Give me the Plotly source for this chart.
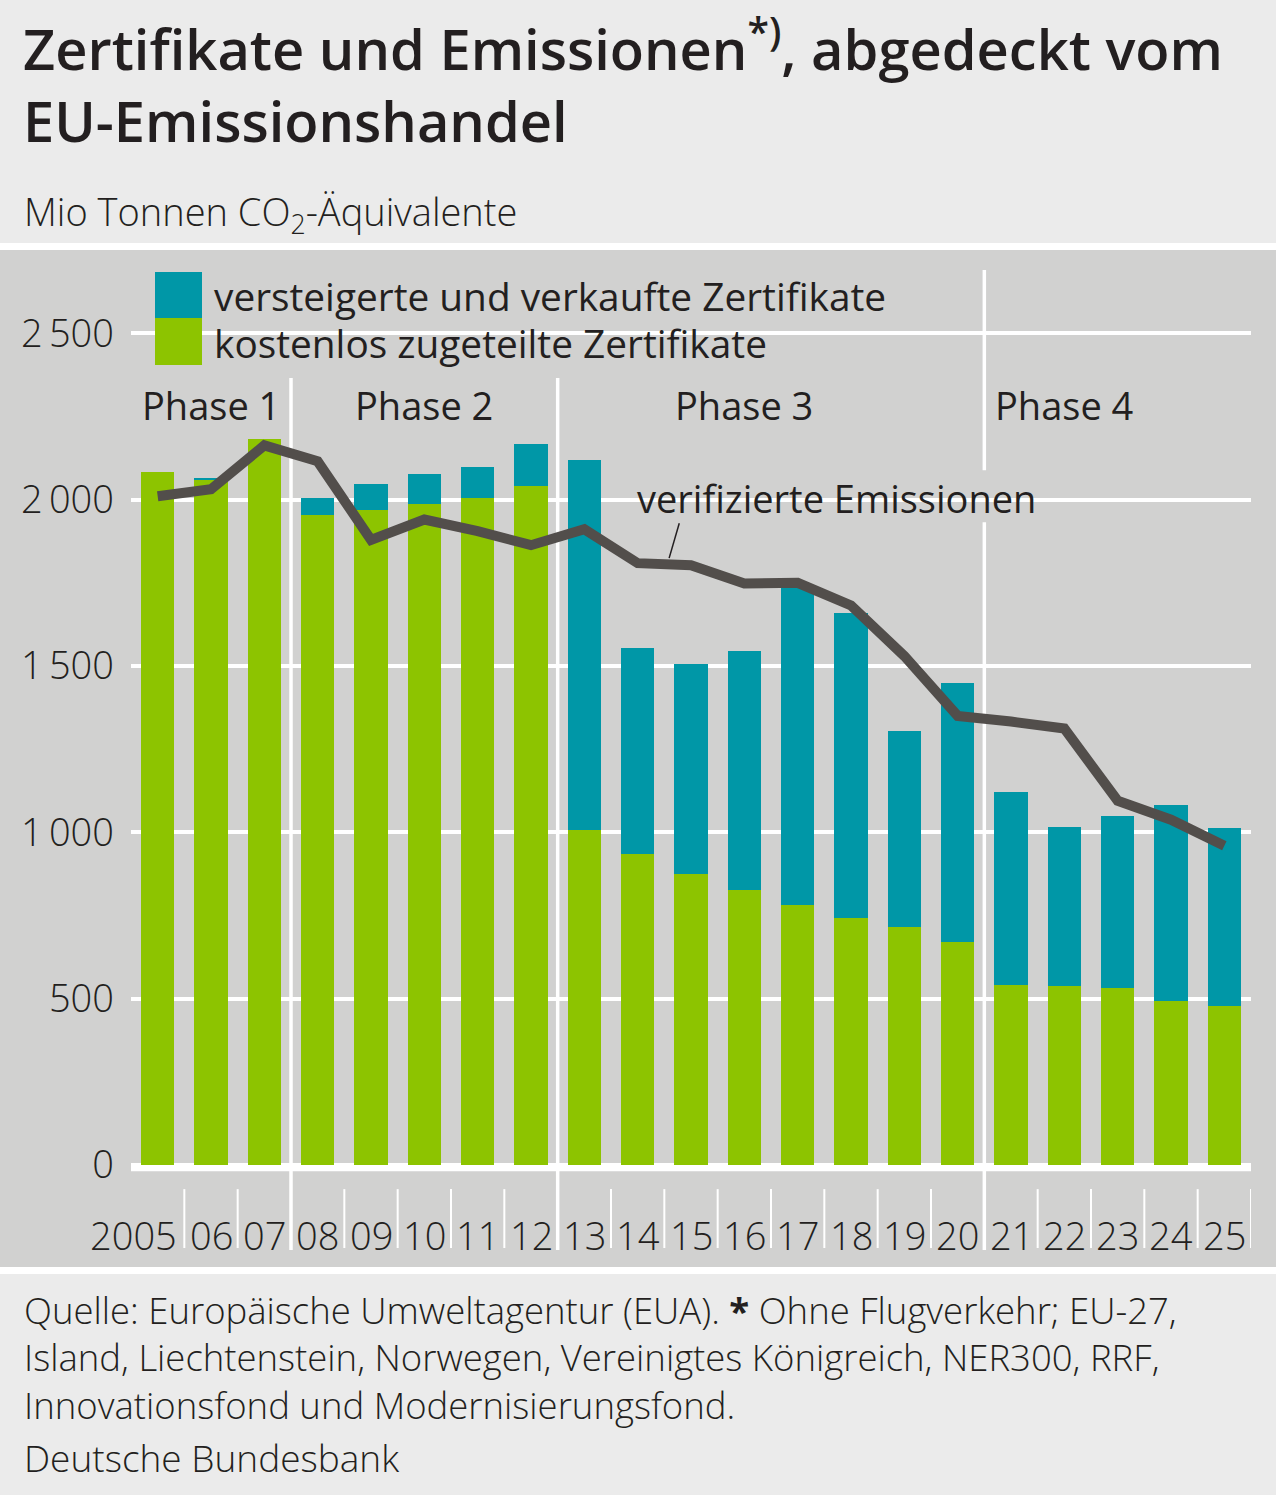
import plotly.graph_objects as go

# --- data (Mio t CO2-Äquivalente) ---
years = ['2005', '2006', '2007', '2008', '2009', '2010', '2011', '2012', '2013', '2014',
         '2015', '2016', '2017', '2018', '2019', '2020', '2021', '2022', '2023', '2024', '2025']
year_labels = ['2005', '06', '07', '08', '09', '10', '11', '12', '13', '14',
               '15', '16', '17', '18', '19', '20', '21', '22', '23', '24', '25']
free_alloc = [2082, 2058, 2181, 1953, 1968, 1986, 2004, 2040, 1008, 936,
              876, 828, 783, 744, 717, 670, 540, 537, 531, 492, 477]
auctioned = [0, 6, 0, 51, 78, 90, 93, 126, 1110, 618,
             630, 717, 953, 915, 588, 779, 582, 480, 519, 591, 537]
emissions = [2010, 2031, 2163, 2115, 1879, 1940, 1905, 1863, 1911, 1809,
             1803, 1748, 1750, 1682, 1530, 1350, 1333, 1312, 1095, 1038, 960]

y_ticks = [0, 500, 1000, 1500, 2000, 2500]
y_ticktext = ['0', '500', '1\u2009000', '1\u2009500', '2\u2009000', '2\u2009500']
phases = ['Phase 1', 'Phase 2', 'Phase 3', 'Phase 4']
phase_pos = [1, 5, 11, 17]
phase_breaks = [2.5, 7.5, 15.5]

GREEN = '#8dc400'
TEAL = '#0097a7'
LINE = '#524e4b'
BG = '#d1d1d0'
HEAD = '#ebebeb'
TXT = '#231f20'
FONT = 'Open Sans'

W, H = 1276, 1495
L, R, T, B = 131, 25, 250, 230


def px(x):
    return (x - L) / (W - L - R)


def py(y):
    return (H - B - y) / (H - T - B)


fig = go.Figure()
fig.add_trace(go.Bar(x=years, y=free_alloc, marker_color=GREEN, marker_line_width=0,
                     name='kostenlos zugeteilte Zertifikate'))
fig.add_trace(go.Bar(x=years, y=auctioned, marker_color=TEAL, marker_line_width=0,
                     name='versteigerte und verkaufte Zertifikate'))
fig.add_trace(go.Scatter(x=years, y=emissions, mode='lines',
                         line=dict(color=LINE, width=10), name='verifizierte Emissionen'))

shapes = [
    # background panels
    dict(type='rect', xref='paper', yref='paper', x0=px(0), x1=px(W), y0=py(0), y1=py(243),
         fillcolor=HEAD, line_width=0, layer='below'),
    dict(type='rect', xref='paper', yref='paper', x0=px(0), x1=px(W), y0=py(250), y1=py(1267),
         fillcolor=BG, line_width=0, layer='below'),
    dict(type='rect', xref='paper', yref='paper', x0=px(0), x1=px(W), y0=py(1274), y1=py(H),
         fillcolor=HEAD, line_width=0, layer='below'),
    # gaps in gridlines behind legend and line label
    dict(type='rect', xref='paper', yref='paper', x0=px(143), x1=px(782), y0=py(325), y1=py(342),
         fillcolor=BG, line_width=0, layer='between'),
    dict(type='rect', xref='paper', yref='paper', x0=px(601), x1=px(1051), y0=py(478), y1=py(520),
         fillcolor=BG, line_width=0, layer='between'),
    # zero line
    dict(type='rect', xref='paper', yref='y', x0=0, x1=1, y0=6, y1=-18,
         fillcolor='white', line_width=0, layer='between'),
    # legend boxes
    dict(type='rect', xref='paper', yref='paper', x0=px(155), x1=px(202), y0=py(272), y1=py(318),
         fillcolor=TEAL, line_width=0, layer='above'),
    dict(type='rect', xref='paper', yref='paper', x0=px(155), x1=px(202), y0=py(318), y1=py(365),
         fillcolor=GREEN, line_width=0, layer='above'),
    # leader line for emissions label
    dict(type='line', xref='x', yref='y', x0=9.78, y0=1929, x1=9.59, y1=1824,
         line=dict(color=TXT, width=1.5), layer='above'),
]
# year separators below the axis
for i in range(len(years)):
    shapes.append(dict(type='line', xref='x', yref='y', x0=i + 0.5, x1=i + 0.5, y0=-72, y1=-249,
                       line=dict(color='white', width=2), layer='between'))
# phase separators
for xb in phase_breaks:
    if xb == 15.5:
        segs = [(2690, 2088), (1932, -255)]
    else:
        segs = [(2365, -255)]
    for y0, y1 in segs:
        shapes.append(dict(type='line', xref='x', yref='y', x0=xb, x1=xb, y0=y0, y1=y1,
                           line=dict(color='white', width=3.5), layer='between'))

ann = []
# header
ann.append(dict(text='Zertifikate und Emissionen<sup>*)</sup>, abgedeckt vom', x=px(21), y=py(45),
                font=dict(size=56, color=TXT, family=FONT, weight=600)))
ann.append(dict(text='EU-Emissionshandel', x=px(21), y=py(120),
                font=dict(size=56, color=TXT, family=FONT, weight=600)))
ann.append(dict(text='Mio Tonnen CO<sub>2</sub>-Äquivalente', x=px(22), y=py(213),
                font=dict(size=38, color=TXT, family=FONT, weight=300)))
# legend text
ann.append(dict(text='versteigerte und verkaufte Zertifikate', x=px(212), y=py(296),
                font=dict(size=38.8, color=TXT, family=FONT)))
ann.append(dict(text='kostenlos zugeteilte Zertifikate', x=px(212), y=py(343),
                font=dict(size=38.8, color=TXT, family=FONT)))
# footer
footer_note = ('Quelle: Europäische Umweltagentur (EUA). <b>*</b> Ohne Flugverkehr; EU-27,<br>'
               'Island, Liechtenstein, Norwegen, Vereinigtes Königreich, NER300, RRF,<br>'
               'Innovationsfond und Modernisierungsfond.')
ann.append(dict(text=footer_note, x=px(22), y=py(1357), align='left',
                font=dict(size=36.5, color=TXT, family=FONT, weight=300)))
ann.append(dict(text='Deutsche Bundesbank', x=px(22), y=py(1457),
                font=dict(size=37, color=TXT, family=FONT, weight=300)))
for a in ann:
    a.update(xref='paper', yref='paper', xanchor='left', yanchor='middle', showarrow=False)

# phase labels
for t, xp in zip(phases, phase_pos):
    ann.append(dict(text=t, x=xp, y=2284, xref='x', yref='y', showarrow=False,
                    font=dict(size=38, color=TXT, family=FONT)))
# line label
ann.append(dict(text='verifizierte Emissionen', x=12.72, y=2004, xref='x', yref='y',
                showarrow=False, font=dict(size=38, color=TXT, family=FONT)))
# year labels
for i, t in enumerate(year_labels):
    if i == 0:
        ann.append(dict(text=t, x=0.40, y=-210, xref='x', yref='y', xanchor='right',
                        showarrow=False, font=dict(size=38, color=TXT, family=FONT, weight=300)))
    else:
        ann.append(dict(text=t, x=i, y=-210, xref='x', yref='y', xanchor='center',
                        showarrow=False, font=dict(size=38, color=TXT, family=FONT, weight=300)))

fig.update_layout(
    width=W, height=H,
    margin=dict(l=L, r=R, t=T, b=B, pad=0),
    paper_bgcolor='white', plot_bgcolor='rgba(0,0,0,0)',
    barmode='stack', bargap=0.38,
    showlegend=False,
    shapes=shapes, annotations=ann,
    font=dict(family=FONT, color=TXT),
    xaxis=dict(type='category', range=[-0.5, 20.5], showgrid=False, showticklabels=False,
               ticks='', zeroline=False, fixedrange=True),
    yaxis=dict(range=[-300, 2750], tickvals=y_ticks, ticktext=y_ticktext,
               showgrid=True, gridcolor='white', gridwidth=3.5, zeroline=False,
               ticks='', ticklabelstandoff=16,
               tickfont=dict(size=38, color=TXT, family=FONT, weight=300)),
)

fig.write_html('out.html', config={'displayModeBar': False},
               post_script="document.body.style.margin='0';")
